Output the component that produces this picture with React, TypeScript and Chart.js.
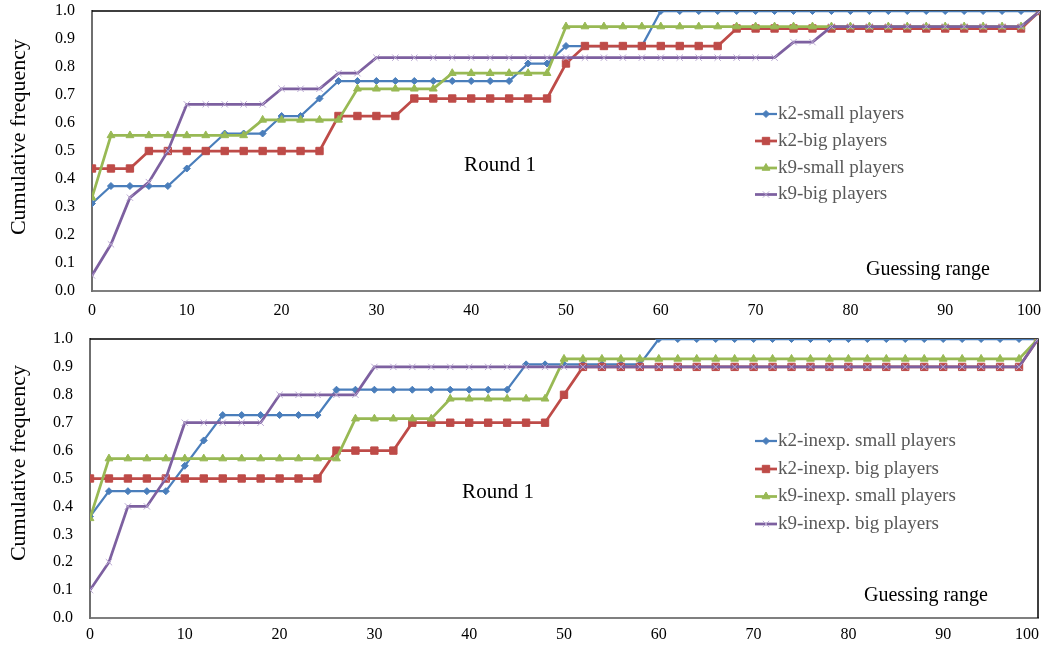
import React, { useEffect, useRef } from 'react';
import { Chart, registerables } from 'chart.js';
import { drawPoint } from 'chart.js/helpers';

Chart.register(...registerables);

const FONT = "'Liberation Serif', 'Times New Roman', serif";

// ---------- data ----------
const X_VALUES = [0, 2, 4, 6, 8, 10, 12, 14, 16, 18, 20, 22, 24, 26, 28, 30, 32, 34, 36, 38, 40, 42, 44, 46, 48, 50,
  52, 54, 56, 58, 60, 62, 64, 66, 68, 70, 72, 74, 76, 78, 80, 82, 84, 86, 88, 90, 92, 94, 96, 98, 100];
const X_TICK_LABELS = [0, 10, 20, 30, 40, 50, 60, 70, 80, 90, 100];
const Y_TICKS = [0, 0.1, 0.2, 0.3, 0.4, 0.5, 0.6, 0.7, 0.8, 0.9, 1.0];

// Panel 1 (Round 1)
const TOP_NAMES = ['k2-small players', 'k2-big players', 'k9-small players', 'k9-big players'];
const TOP_K2_SMALL = [0.3125, 0.375, 0.375, 0.375, 0.375, 0.4375, 0.5, 0.5625, 0.5625, 0.5625, 0.625, 0.625, 0.6875,
  0.75, 0.75, 0.75, 0.75, 0.75, 0.75, 0.75, 0.75, 0.75, 0.75, 0.8125, 0.8125, 0.875, 0.875, 0.875, 0.875, 0.875,
  1, 1, 1, 1, 1, 1, 1, 1, 1, 1, 1, 1, 1, 1, 1, 1, 1, 1, 1, 1, 1];
const TOP_K2_BIG = [0.4375, 0.4375, 0.4375, 0.5, 0.5, 0.5, 0.5, 0.5, 0.5, 0.5, 0.5, 0.5, 0.5, 0.625, 0.625, 0.625, 0.625,
  0.6875, 0.6875, 0.6875, 0.6875, 0.6875, 0.6875, 0.6875, 0.6875, 0.8125, 0.875, 0.875, 0.875, 0.875, 0.875, 0.875,
  0.875, 0.875, 0.9375, 0.9375, 0.9375, 0.9375, 0.9375, 0.9375, 0.9375, 0.9375, 0.9375, 0.9375, 0.9375, 0.9375,
  0.9375, 0.9375, 0.9375, 0.9375, 1];
const TOP_K9_SMALL = [0.3333, 0.5556, 0.5556, 0.5556, 0.5556, 0.5556, 0.5556, 0.5556, 0.5556, 0.6111, 0.6111, 0.6111,
  0.6111, 0.6111, 0.7222, 0.7222, 0.7222, 0.7222, 0.7222, 0.7778, 0.7778, 0.7778, 0.7778, 0.7778, 0.7778, 0.9444,
  0.9444, 0.9444, 0.9444, 0.9444, 0.9444, 0.9444, 0.9444, 0.9444, 0.9444, 0.9444, 0.9444, 0.9444, 0.9444, 0.9444,
  0.9444, 0.9444, 0.9444, 0.9444, 0.9444, 0.9444, 0.9444, 0.9444, 0.9444, 0.9444, 1];
const TOP_K9_BIG = [0.0556, 0.1667, 0.3333, 0.3889, 0.5, 0.6667, 0.6667, 0.6667, 0.6667, 0.6667, 0.7222, 0.7222, 0.7222,
  0.7778, 0.7778, 0.8333, 0.8333, 0.8333, 0.8333, 0.8333, 0.8333, 0.8333, 0.8333, 0.8333, 0.8333, 0.8333, 0.8333,
  0.8333, 0.8333, 0.8333, 0.8333, 0.8333, 0.8333, 0.8333, 0.8333, 0.8333, 0.8333, 0.8889, 0.8889, 0.9444, 0.9444,
  0.9444, 0.9444, 0.9444, 0.9444, 0.9444, 0.9444, 0.9444, 0.9444, 0.9444, 1];

// Panel 2 (Round 1, inexperienced)
const BOT_NAMES = ['k2-inexp. small players', 'k2-inexp. big players', 'k9-inexp. small players', 'k9-inexp. big players'];
const BOT_K2_SMALL = [0.3636, 0.4545, 0.4545, 0.4545, 0.4545, 0.5455, 0.6364, 0.7273, 0.7273, 0.7273, 0.7273, 0.7273,
  0.7273, 0.8182, 0.8182, 0.8182, 0.8182, 0.8182, 0.8182, 0.8182, 0.8182, 0.8182, 0.8182, 0.9091, 0.9091, 0.9091,
  0.9091, 0.9091, 0.9091, 0.9091, 1, 1, 1, 1, 1, 1, 1, 1, 1, 1, 1, 1, 1, 1, 1, 1, 1, 1, 1, 1, 1];
const BOT_K2_BIG = [0.5, 0.5, 0.5, 0.5, 0.5, 0.5, 0.5, 0.5, 0.5, 0.5, 0.5, 0.5, 0.5, 0.6, 0.6, 0.6, 0.6, 0.7, 0.7, 0.7,
  0.7, 0.7, 0.7, 0.7, 0.7, 0.8, 0.9, 0.9, 0.9, 0.9, 0.9, 0.9, 0.9, 0.9, 0.9, 0.9, 0.9, 0.9, 0.9, 0.9, 0.9, 0.9, 0.9,
  0.9, 0.9, 0.9, 0.9, 0.9, 0.9, 0.9, 1];
const BOT_K9_SMALL = [0.3571, 0.5714, 0.5714, 0.5714, 0.5714, 0.5714, 0.5714, 0.5714, 0.5714, 0.5714, 0.5714, 0.5714,
  0.5714, 0.5714, 0.7143, 0.7143, 0.7143, 0.7143, 0.7143, 0.7857, 0.7857, 0.7857, 0.7857, 0.7857, 0.7857, 0.9286,
  0.9286, 0.9286, 0.9286, 0.9286, 0.9286, 0.9286, 0.9286, 0.9286, 0.9286, 0.9286, 0.9286, 0.9286, 0.9286, 0.9286,
  0.9286, 0.9286, 0.9286, 0.9286, 0.9286, 0.9286, 0.9286, 0.9286, 0.9286, 0.9286, 1];
const BOT_K9_BIG = [0.1, 0.2, 0.4, 0.4, 0.5, 0.7, 0.7, 0.7, 0.7, 0.7, 0.8, 0.8, 0.8, 0.8, 0.8, 0.9, 0.9, 0.9, 0.9, 0.9,
  0.9, 0.9, 0.9, 0.9, 0.9, 0.9, 0.9, 0.9, 0.9, 0.9, 0.9, 0.9, 0.9, 0.9, 0.9, 0.9, 0.9, 0.9, 0.9, 0.9, 0.9, 0.9, 0.9,
  0.9, 0.9, 0.9, 0.9, 0.9, 0.9, 0.9, 1];

const Y_TITLE = 'Cumulative frequency';
const X_TITLE = 'Guessing range';
const PANEL_LABEL = 'Round 1';

// ---------- styles ----------
const STYLES = [
  { line: '#4A7EBB', point: '#4A7EBB', pointStyle: 'rectRot', radius: 3.5, width: 2.25, order: 4 },
  { line: '#BE4B48', point: '#BE4B48', pointStyle: 'rect', radius: 5.2, width: 2.75, order: 3 },
  { line: '#98B954', point: '#98B954', pointStyle: 'triangle', radius: 4.5, width: 2.75, order: 2 },
  { line: '#7D60A0', point: '#B9A7D1', pointStyle: 'crossRot', radius: 4.5, width: 2.75, order: 1 },
];

type Panel = {
  top: number; height: number;
  plotLeft: number; plotRight: number; plotTop: number; plotBottom: number;
  series: number[][]; names: string[];
  legendRows: number[]; xLabelY: number;
  round: { x: number; y: number };
  guess: { x: number; y: number };
  title: { x: number; y: number };
};

const PANELS: Panel[] = [
  {
    top: 0, height: 325, plotLeft: 92, plotRight: 1040, plotTop: 11, plotBottom: 291,
    series: [TOP_K2_SMALL, TOP_K2_BIG, TOP_K9_SMALL, TOP_K9_BIG], names: TOP_NAMES,
    legendRows: [114, 141, 168, 194.5], xLabelY: 311,
    round: { x: 500, y: 165 }, guess: { x: 866, y: 275 }, title: { x: 19, y: 137 },
  },
  {
    top: 325, height: 326, plotLeft: 90, plotRight: 1038, plotTop: 14, plotBottom: 293,
    series: [BOT_K2_SMALL, BOT_K2_BIG, BOT_K9_SMALL, BOT_K9_BIG], names: BOT_NAMES,
    legendRows: [116, 144, 171.5, 199], xLabelY: 310,
    round: { x: 498, y: 167 }, guess: { x: 864, y: 276 }, title: { x: 19, y: 138 },
  },
];

function makeOverlay(p: Panel) {
  return {
    id: 'overlay',
    beforeDatasetsDraw(chart: any) {
      const { ctx, chartArea } = chart;
      ctx.save();
      ctx.strokeStyle = '#000000';
      ctx.lineWidth = 1.5;
      ctx.beginPath();
      ctx.moveTo(chartArea.left, chartArea.top);
      ctx.lineTo(chartArea.right, chartArea.top);
      ctx.lineTo(chartArea.right, chartArea.bottom);
      ctx.stroke();
      ctx.restore();
    },
    afterDraw(chart: any) {
      const { ctx } = chart;
      const xs = chart.scales.x;
      ctx.save();
      // x tick labels
      ctx.fillStyle = '#000000';
      ctx.font = `16px ${FONT}`;
      ctx.textBaseline = 'middle';
      X_TICK_LABELS.forEach((v, i) => {
        const px = xs.getPixelForValue(v);
        const last = i === X_TICK_LABELS.length - 1;
        ctx.textAlign = last ? 'right' : 'center';
        ctx.fillText(String(v), last ? px + 1 : px, p.xLabelY);
      });
      // y title
      ctx.save();
      ctx.translate(p.title.x, p.title.y);
      ctx.rotate(-Math.PI / 2);
      ctx.textAlign = 'center';
      ctx.textBaseline = 'middle';
      ctx.font = `22px ${FONT}`;
      ctx.fillText(Y_TITLE, 0, 0);
      ctx.restore();
      // panel label and x title
      ctx.font = `21px ${FONT}`;
      ctx.textAlign = 'center';
      ctx.textBaseline = 'middle';
      ctx.fillText(PANEL_LABEL, p.round.x, p.round.y);
      ctx.textAlign = 'left';
      ctx.textBaseline = 'alphabetic';
      ctx.font = `20px ${FONT}`;
      ctx.fillText(X_TITLE, p.guess.x, p.guess.y);
      // legend
      ctx.font = `19px ${FONT}`;
      p.names.forEach((name, i) => {
        const st = STYLES[i];
        const y = p.legendRows[i];
        ctx.strokeStyle = st.line;
        ctx.lineWidth = st.width;
        ctx.beginPath();
        ctx.moveTo(755, y);
        ctx.lineTo(777, y);
        ctx.stroke();
        ctx.fillStyle = st.point;
        ctx.strokeStyle = st.point;
        ctx.lineWidth = 1;
        drawPoint(ctx, { pointStyle: st.pointStyle, radius: st.radius, borderWidth: 1, rotation: 0 } as any, 766, y);
        ctx.fillStyle = '#595959';
        ctx.textAlign = 'left';
        ctx.textBaseline = 'middle';
        ctx.fillText(name, 778, y);
      });
      ctx.restore();
    },
  };
}

function PanelChart({ p }: { p: Panel }) {
  const ref = useRef<HTMLCanvasElement>(null);
  useEffect(() => {
    if (!ref.current) return;
    const datasets = p.series.map((arr, i) => {
      const st = STYLES[i];
      return {
        label: p.names[i],
        data: X_VALUES.map((x, j) => ({ x, y: arr[j] })),
        borderColor: st.line,
        backgroundColor: st.point,
        borderWidth: st.width,
        pointStyle: st.pointStyle,
        pointRadius: st.radius,
        pointBorderColor: st.point,
        pointBackgroundColor: st.point,
        pointBorderWidth: 1,
        tension: 0,
        order: st.order,
      };
    });
    const chart = new Chart(ref.current, {
      type: 'line',
      data: { datasets } as any,
      options: {
        responsive: false,
        animation: false,
        events: [],
        layout: { padding: { left: 0, top: p.plotTop, right: 1050 - p.plotRight, bottom: 0 } },
        plugins: { legend: { display: false }, tooltip: { enabled: false }, title: { display: false } },
        scales: {
          x: {
            type: 'linear', min: 0, max: 100,
            grid: { display: false, drawTicks: false },
            border: { display: true, color: '#7f7f7f', width: 2 },
            ticks: { display: false, stepSize: 10 },
            afterFit: (s: any) => { s.height = p.height - p.plotBottom; s.paddingLeft = 0; s.paddingRight = 0; },
          },
          y: {
            type: 'linear', min: 0, max: 1,
            grid: { display: false, drawTicks: false },
            border: { display: true, color: '#6f6f6f', width: 2 },
            afterBuildTicks: (s: any) => { s.ticks = Y_TICKS.map((v) => ({ value: v })); },
            ticks: {
              padding: 17, color: '#000000', font: { family: FONT, size: 16 },
              callback: (v: any) => Number(v).toFixed(1),
            },
            afterFit: (s: any) => { s.width = p.plotLeft; s.paddingTop = 0; s.paddingBottom = 0; },
          },
        },
      } as any,
      plugins: [makeOverlay(p)],
    });
    return () => chart.destroy();
  }, [p]);
  return (
    <div style={{ position: 'absolute', left: 0, top: p.top, width: 1050, height: p.height }}>
      <canvas ref={ref} width={1050} height={p.height} style={{ display: 'block' }} />
    </div>
  );
}

export default function App() {
  return (
    <div style={{ position: 'absolute', left: 0, top: 0, width: 1050, height: 651, background: '#ffffff', overflow: 'hidden' }}>
      {PANELS.map((p, i) => <PanelChart key={i} p={p} />)}
    </div>
  );
}
